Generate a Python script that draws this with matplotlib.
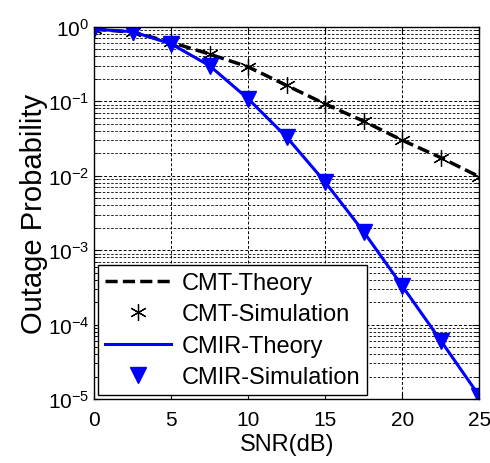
import matplotlib
matplotlib.use("Agg")
import matplotlib.pyplot as plt
from matplotlib.ticker import LogLocator, NullFormatter

plt.rcParams['font.family'] = ['Liberation Sans', 'DejaVu Sans']

snr = [0, 2.5, 5, 7.5, 10, 12.5, 15, 17.5, 20, 22.5, 25]
cmt_theory = [0.93, 0.85, 0.62, 0.43, 0.29, 0.163, 0.092, 0.054, 0.030, 0.0175, 0.0097]
cmt_sim = [0.93, 0.85, 0.62, 0.43, 0.29, 0.163, 0.092, 0.054, 0.030, 0.0175, 0.0097]
cmir_theory = [0.93, 0.86, 0.59, 0.30, 0.108, 0.033, 0.0082, 0.00176, 3.3e-4, 6.1e-5, 1.1e-5]
cmir_sim = [0.93, 0.86, 0.59, 0.30, 0.108, 0.033, 0.0082, 0.00176, 3.3e-4, 6.1e-5, 1.1e-5]
xticks = [0, 5, 10, 15, 20, 25]

fig = plt.figure(figsize=(4.9, 4.64), dpi=100)
ax = fig.add_axes([0.192, 0.138, 0.786, 0.802])

ax.plot(snr, cmt_theory, color='black', linestyle=(0, (3.5, 1.5)), linewidth=2.5, label='CMT-Theory')
ax.plot(snr, cmt_sim, color='black', linestyle='none', marker=(6, 2, 0), markersize=12,
        markeredgewidth=0.9, label='CMT-Simulation')
ax.plot(snr, cmir_theory, color='#0000ff', linestyle='-', linewidth=2.2, label='CMIR-Theory')
ax.plot(snr, cmir_sim, color='#0000ff', linestyle='none', marker='v', markersize=11,
        label='CMIR-Simulation')

ax.set_yscale('log')
ax.set_xlim(0, 25)
ax.set_ylim(1e-5, 1)
ax.set_xticks(xticks)
ax.yaxis.set_major_locator(LogLocator(base=10, numticks=10))
ax.yaxis.set_minor_locator(LogLocator(base=10, subs=range(2, 10), numticks=20))
ax.yaxis.set_minor_formatter(NullFormatter())

ax.grid(True, which='major', color='black', linestyle=(0, (3, 2)), linewidth=0.7)
ax.grid(True, which='minor', axis='y', color='black', linestyle=(0, (3, 2)), linewidth=0.6)
ax.set_axisbelow(True)

ax.tick_params(which='both', direction='in', top=True, right=True, labelsize=15)
ax.tick_params(axis='x', pad=8)
ax.tick_params(which='major', length=5)
ax.tick_params(which='minor', length=3)
for s in ax.spines.values():
    s.set_linewidth(1.0)

ax.set_xlabel('SNR(dB)', fontsize=17, labelpad=3)
ax.set_ylabel('Outage Probability', fontsize=21, labelpad=0)

leg = ax.legend(loc='lower left', fontsize=17, handlelength=2.8, frameon=True, fancybox=False,
                edgecolor='black', framealpha=1, borderaxespad=0.15, labelspacing=0.4,
                handletextpad=0.45, borderpad=0.3)
leg.get_frame().set_linewidth(1.0)

fig.savefig('out.png', dpi=100)
